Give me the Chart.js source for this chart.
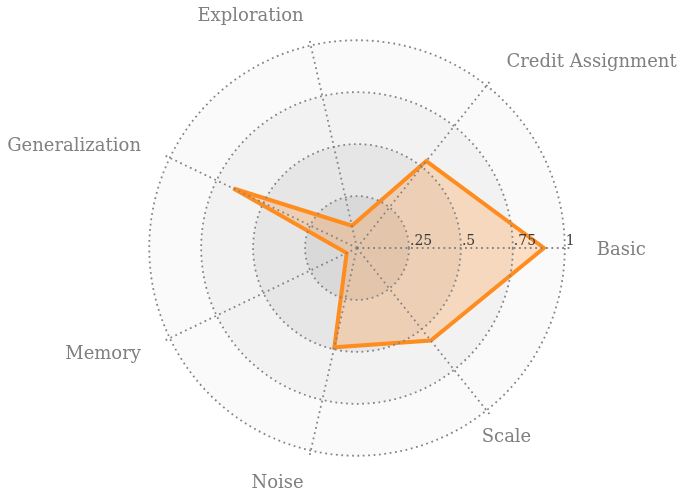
<!DOCTYPE html>
<html>
<head>
<meta charset="utf-8">
<script src="https://cdn.jsdelivr.net/npm/chart.js@4/dist/chart.umd.min.js"></script>
<style>
html,body{margin:0;padding:0;background:#fff;}
canvas{display:block;}
</style>
</head>
<body>
<canvas id="c" width="683" height="498"></canvas>
<script>
// Categories listed clockwise starting from the right (Chart.js order)
const categories = ["Basic", "Scale", "Noise", "Memory", "Generalization", "Exploration", "Credit Assignment"];
const scores = [0.90, 0.57, 0.49, 0.055, 0.66, 0.11, 0.535];
const tickValues = [0, 0.25, 0.5, 0.75, 1];
const tickLabels = ["", ".25", ".5", ".75", "1"];

const bandColors = ["#fafafa", "#f2f2f2", "#e6e6e6", "#d9d9d9"]; // outer -> inner
const labelAlign = ["left", "center", "right", "right", "right", "right", "left"];

const decor = {
  id: 'decor',
  beforeDatasetsDraw(chart) {
    const s = chart.scales.r, ctx = chart.ctx;
    const vals = tickValues.slice(1).reverse();
    ctx.save();
    vals.forEach((v, i) => {
      ctx.beginPath();
      ctx.arc(s.xCenter, s.yCenter, s.getDistanceFromCenterForValue(v), 0, Math.PI * 2);
      ctx.fillStyle = bandColors[i];
      ctx.fill();
    });
    ctx.restore();
    ctx.miterLimit = 4;
  },
  afterDraw(chart) {
    const s = chart.scales.r, ctx = chart.ctx;
    ctx.save();
    // tick labels along the Basic axis
    ctx.font = '14px "DejaVu Serif"';
    ctx.fillStyle = '#3a3a3a';
    ctx.textAlign = 'left';
    ctx.textBaseline = 'alphabetic';
    tickValues.forEach((v, i) => {
      if (!tickLabels[i]) return;
      const p = s.getPointPositionForValue(0, v);
      ctx.fillText(tickLabels[i], p.x + 1, p.y - 3);
    });
    // category labels
    ctx.font = '18px "DejaVu Serif"';
    ctx.fillStyle = '#808080';
    ctx.textBaseline = 'middle';
    const rr = s.getDistanceFromCenterForValue(1) + 32;
    categories.forEach((c, i) => {
      const p = s.getPointPosition(i, rr);
      ctx.textAlign = labelAlign[i];
      ctx.fillText(c, p.x, p.y + 2);
    });
    ctx.restore();
  }
};

new Chart(document.getElementById('c'), {
  type: 'radar',
  data: {
    labels: categories,
    datasets: [{
      data: scores,
      borderColor: 'rgb(255,140,30)',
      backgroundColor: 'rgba(255,140,30,0.25)',
      borderWidth: 4,
      borderJoinStyle: 'miter',
      pointRadius: 0,
      pointHoverRadius: 0,
      fill: true,
      tension: 0
    }]
  },
  options: {
    responsive: false,
    animation: false,
    devicePixelRatio: 1,
    layout: { padding: { top: 34, bottom: 36, left: 143, right: 112 } },
    plugins: { legend: { display: false }, tooltip: { enabled: false } },
    scales: {
      r: {
        min: 0,
        max: 1.03,
        startAngle: 90,
        afterBuildTicks(scale) {
          scale.ticks = tickValues.map(v => ({ value: v }));
        },
        ticks: { display: false, z: 1 },
        pointLabels: { display: false },
        grid: { circular: true, color: '#858585', lineWidth: 1.8, z: 1 },
        border: { dash: [1.8, 3.6], z: 1 },
        angleLines: { display: true, color: '#858585', lineWidth: 1.8, borderDash: [1.8, 3.6] }
      }
    }
  },
  plugins: [decor]
});
</script>
</body>
</html>
